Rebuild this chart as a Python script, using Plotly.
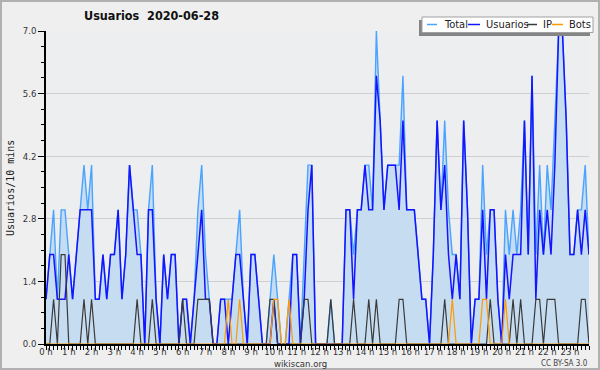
import plotly.graph_objects as go

# 10-minute slots (minutes since midnight) and hour tick labels
slot_minutes = [i * 10 for i in range(144)]
hour_ticks = [h * 60 for h in range(24)]
hour_labels = [f"{h} h" for h in range(24)]
y_ticks = [0.0, 1.4, 2.8, 4.2, 5.6, 7.0]
y_labels = ["0.0", "1.4", "2.8", "4.2", "5.6", "7.0"]

total = [1, 2, 3, 1, 3, 3,   2, 1, 2, 3, 4, 3,   4, 1, 1, 2, 1, 2,   2, 3, 1, 2, 4, 3,
         3, 2, 0, 3, 4, 1,   0, 2, 1, 2, 2, 0,   1, 1, 0, 1, 3, 4,   2, 1, 0, 0, 1, 1,
         1, 1, 2, 3, 1, 0,   2, 2, 1, 0, 0, 1,   2, 1, 0, 0, 1, 2,   2, 0, 2, 4, 4, 0,
         0, 0, 0, 1, 0, 0,   0, 3, 3, 2, 3, 3,   4, 4, 3, 7, 5, 3,   4, 4, 4, 4, 6, 3,
         3, 3, 2, 1, 1, 0,   2, 5, 3, 5, 3, 2,   2, 1, 5, 3, 0, 1,   1, 4, 2, 3, 3, 1,
         0, 3, 2, 3, 2, 3,   5, 2, 6, 2, 4, 2,   4, 3, 5, 7, 7, 5,   2, 2, 3, 3, 4, 2]
usuarios = [1, 2, 2, 1, 1, 1,   2, 1, 2, 3, 3, 3,   3, 1, 1, 2, 1, 2,   2, 3, 1, 2, 4, 3,
            2, 2, 0, 3, 3, 1,   0, 2, 1, 2, 2, 0,   1, 1, 0, 1, 2, 3,   1, 1, 0, 0, 1, 1,
            0, 1, 2, 2, 1, 0,   2, 2, 1, 0, 0, 0,   1, 0, 0, 0, 0, 2,   2, 0, 1, 3, 4, 0,
            0, 0, 0, 0, 0, 0,   0, 3, 3, 1, 3, 3,   4, 3, 3, 6, 5, 3,   4, 4, 4, 3, 5, 3,
            3, 3, 2, 1, 1, 0,   2, 5, 3, 4, 2, 1,   2, 1, 5, 3, 0, 1,   1, 3, 1, 3, 3, 1,
            0, 2, 1, 2, 2, 2,   5, 2, 6, 1, 3, 2,   3, 2, 4, 7, 7, 5,   2, 2, 3, 2, 3, 2]
ip = [0, 0, 1, 0, 2, 2,   0, 0, 0, 0, 1, 0,   1, 0, 0, 0, 0, 0,   0, 0, 0, 0, 0, 0,
      1, 0, 0, 0, 1, 0,   0, 0, 0, 0, 0, 0,   1, 0, 0, 0, 1, 1,   1, 1, 0, 0, 0, 0,
      0, 0, 0, 0, 0, 0,   0, 0, 0, 0, 0, 1,   1, 0, 0, 0, 0, 0,   0, 0, 1, 1, 0, 0,
      0, 0, 0, 1, 0, 0,   0, 0, 0, 1, 0, 0,   0, 1, 0, 1, 0, 0,   0, 0, 0, 1, 1, 0,
      0, 0, 0, 0, 0, 0,   0, 0, 0, 1, 0, 0,   0, 0, 0, 0, 0, 0,   0, 0, 0, 1, 0, 0,
      0, 0, 0, 1, 0, 1,   0, 0, 0, 1, 1, 0,   1, 1, 1, 0, 0, 0,   0, 0, 0, 1, 1, 0]
bots = [0, 0, 0, 0, 0, 0,   0, 0, 0, 0, 0, 0,   0, 0, 0, 0, 0, 0,   0, 0, 0, 0, 0, 0,
        0, 0, 0, 0, 0, 0,   0, 0, 0, 0, 0, 0,   0, 0, 0, 0, 0, 0,   0, 0, 0, 0, 0, 0,
        1, 0, 0, 1, 0, 0,   0, 0, 0, 0, 0, 0,   1, 1, 0, 0, 1, 0,   0, 0, 0, 0, 0, 0,
        0, 0, 0, 0, 0, 0,   0, 0, 0, 0, 0, 0,   0, 0, 0, 0, 0, 0,   0, 0, 0, 0, 0, 0,
        0, 0, 0, 0, 0, 0,   0, 0, 0, 0, 0, 1,   0, 0, 0, 0, 0, 0,   0, 1, 1, 0, 0, 0,
        0, 1, 0, 0, 0, 0,   0, 0, 0, 0, 0, 0,   0, 0, 0, 0, 0, 0,   0, 0, 0, 0, 0, 0]

series_names = ["Total", "Usuarios", "IP", "Bots"]
series_colors = ["#4aa3ff", "#1414ff", "#3a3a3a", "#ff9a00"]

W, H = 600, 370
L, R, T, B = 46, 589, 31, 344
PW, PH = R - L, B - T
FONT = "DejaVu Sans Condensed, DejaVu Sans, sans-serif"


def px(x):
    return (x - L) / PW


def py(y):
    return (B - y) / PH


fig = go.Figure()
fig.add_trace(go.Scatter(x=slot_minutes, y=total, mode="lines", fill="tozeroy",
                         fillcolor="#c6dcf0", line=dict(color=series_colors[0], width=1.4),
                         name=series_names[0]))
fig.add_trace(go.Scatter(x=slot_minutes, y=usuarios, mode="lines",
                         line=dict(color=series_colors[1], width=1.5), name=series_names[1]))
fig.add_trace(go.Scatter(x=slot_minutes, y=ip, mode="lines",
                         line=dict(color=series_colors[2], width=1.2), name=series_names[2]))
fig.add_trace(go.Scatter(x=slot_minutes, y=bots, mode="lines",
                         line=dict(color=series_colors[3], width=1.2), name=series_names[3]))

shapes = [
    # outer border
    dict(type="rect", xref="paper", yref="paper", x0=px(1), x1=px(599), y0=py(1), y1=py(369),
         line=dict(color="#b0b0b0", width=2), fillcolor="rgba(0,0,0,0)", layer="above"),
    # legend shadow and box
    dict(type="rect", xref="paper", yref="paper", x0=px(419), x1=px(590), y0=py(20), y1=py(36),
         line=dict(width=0), fillcolor="#858585", layer="above"),
    dict(type="rect", xref="paper", yref="paper", x0=px(422), x1=px(593), y0=py(17), y1=py(32.5),
         line=dict(color="#a0a0a0", width=1), fillcolor="#ffffff", layer="above"),
]
leg_lines = [(427, 437), (468, 480), (527, 537), (552, 563)]
leg_text_x = [442, 484, 541, 567]
annotations = []
for (x0, x1), tx, name, col in zip(leg_lines, leg_text_x, series_names, series_colors):
    shapes.append(dict(type="line", xref="paper", yref="paper", x0=px(x0), x1=px(x1),
                       y0=py(24.5), y1=py(24.5), line=dict(color=col, width=1.5), layer="above"))
    annotations.append(dict(xref="paper", yref="paper", x=px(tx), y=py(24.5), text=name,
                            showarrow=False, xanchor="left", yanchor="middle",
                            font=dict(family=FONT, size=11, color="#222")))

annotations += [
    dict(xref="paper", yref="paper", x=px(151), y=py(16),
         text="<b>Usuarios\u00a0\u00a02020-06-28</b>",
         showarrow=False, xanchor="center", yanchor="middle",
         font=dict(family=FONT, size=12.5, color="#111")),
    dict(xref="paper", yref="paper", x=px(10), y=py(188), text="Usuarios/10 mins",
         showarrow=False, textangle=-90, xanchor="center", yanchor="middle",
         font=dict(family="DejaVu Sans Mono, monospace", size=10, color="#222")),
    dict(xref="paper", yref="paper", x=px(300), y=py(363.5), text="wikiscan.org",
         showarrow=False, xanchor="center", yanchor="middle",
         font=dict(family=FONT, size=9.5, color="#333")),
    dict(xref="paper", yref="paper", x=px(590), y=py(363), text="CC BY-SA 3.0",
         showarrow=False, xanchor="right", yanchor="middle",
         font=dict(family=FONT, size=8, color="#444")),
]

fig.update_layout(
    width=W, height=H, autosize=False,
    margin=dict(l=L, r=W - R, t=T, b=H - B, pad=0, autoexpand=False),
    paper_bgcolor="#efefef", plot_bgcolor="#edeef0",
    showlegend=False,
    shapes=shapes, annotations=annotations,
    font=dict(family=FONT, size=10, color="#333"),
)
fig.update_xaxes(range=[0, 1430], tickvals=hour_ticks, ticktext=hour_labels, automargin=False,
                 showgrid=False, zeroline=False, showline=True, linecolor="#000", linewidth=1.5,
                 ticks="outside", ticklen=4, tickcolor="#000", tickwidth=1,
                 ticklabelstandoff=-6,
                 tickfont=dict(family=FONT, size=9.5, color="#333"),
                 minor=dict(dtick=10, tick0=0, ticks="outside", ticklen=4, tickcolor="#000",
                            showgrid=False))
fig.update_yaxes(range=[0, 7], tickvals=y_ticks, ticktext=y_labels, automargin=False,
                 showgrid=True, gridcolor="#cfcfcf", gridwidth=1, zeroline=False,
                 showline=True, linecolor="#000", linewidth=1.5,
                 ticks="outside", ticklen=6, tickcolor="#000",
                 tickfont=dict(family=FONT, size=9.5, color="#333"),
                 minor=dict(dtick=0.35, tick0=0, ticks="outside", ticklen=3, tickcolor="#000",
                            showgrid=False))

fig.write_html("out.html", config={"displayModeBar": False},
               post_script="document.body.style.margin='0';document.body.style.padding='0';")
